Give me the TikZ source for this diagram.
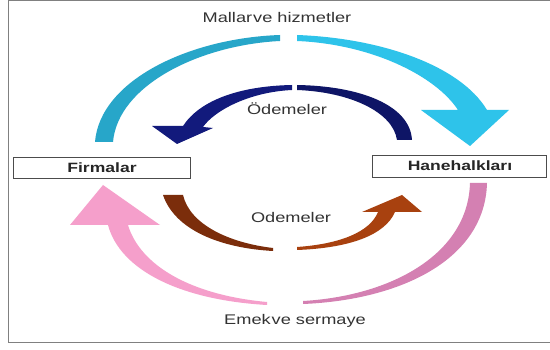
\documentclass[tikz,border=0pt]{standalone}
\usepackage{fontspec}
\setmainfont{Liberation Sans}
\newfontfamily\wf[FakeStretch=1.3]{Liberation Sans}
\definecolor{cyanA}{HTML}{27A6C9}
\definecolor{cyanB}{HTML}{2EC3EA}
\definecolor{navyA}{HTML}{121A7C}
\definecolor{navyB}{HTML}{0E1566}
\definecolor{brownA}{HTML}{7B2D0B}
\definecolor{brownB}{HTML}{A8410F}
\definecolor{pinkA}{HTML}{F59FCB}
\definecolor{pinkB}{HTML}{D480B2}
\definecolor{txt}{HTML}{333333}
\tikzset{
  lbl/.style={font=\wf\fontsize{14}{16}\selectfont, text=txt, inner sep=0pt},
  boxlbl/.style={font=\wf\bfseries\fontsize{13.5}{15}\selectfont, text=black!85, inner sep=0pt},
  boxframe/.style={draw=black!70, line width=0.9pt, fill=white},
  frame/.style={draw=black!50, line width=1pt}
}
\begin{document}
\begin{tikzpicture}[x=1pt,y=-1pt]
\useasboundingbox (0,0) rectangle (550,350);
\fill[white] (0,0) rectangle (550,350);
\draw[frame] (8.5,1) rectangle (560,342.5);

% top cyan arrow (Mallar ve hizmetler)
\fill[cyanA] (95,142) .. controls (100,80) and (190,38) .. (280,35)
  -- (280,41) .. controls (200,45) and (118,85) .. (113,142) -- cycle;
\fill[cyanB] (297,35) .. controls (380,38) and (460,65) .. (487,110)
  -- (509,110) -- (470,146) -- (421,110) -- (458,110)
  .. controls (435,75) and (370,44) .. (297,41) -- cycle;

% navy arrow (top Odemeler)
\fill[navyB] (297,85) .. controls (360,86) and (410,105) .. (412,140)
  -- (397,140) .. controls (393,112) and (350,92) .. (297,90) -- cycle;
\fill[navyA] (292,85) .. controls (240,86) and (200,100) .. (183,126)
  -- (152,126) -- (177,144) -- (213,128) -- (203,127)
  .. controls (215,110) and (250,92) .. (292,90) -- cycle;

% brown arrow (bottom Odemeler)
\fill[brownA] (163,195) .. controls (175,230) and (220,248) .. (273,251)
  -- (273,248) .. controls (230,243) and (190,225) .. (183,195) -- cycle;
\fill[brownB] (297,250) .. controls (350,248) and (385,235) .. (395,212)
  -- (422,212) -- (402,195) -- (362,212) -- (378,212)
  .. controls (370,232) and (340,244) .. (297,247) -- cycle;

% pink arrow (Emek ve sermaye)
\fill[pinkB] (487,183) .. controls (485,260) and (400,300) .. (303,304)
  -- (303,301) .. controls (390,296) and (468,255) .. (470,183) -- cycle;
\fill[pinkA] (267,305) .. controls (180,300) and (120,270) .. (108,225)
  -- (70,225) -- (103,185) -- (160,225) -- (128,225)
  .. controls (140,265) and (190,295) .. (267,302) -- cycle;

% boxes
\draw[boxframe] (13,157) rectangle (190,178);
\node[boxlbl] (firmalar) at (102,167.5) {Firmalar};
\draw[boxframe] (372,155) rectangle (546,177.5);
\node[boxlbl] (hane) at (460,166) {Hanehalkları};

% labels
\node[lbl] (mal) at (277,17) {Mallar\hspace{1pt}ve hizmetler};
\node[lbl] (od1) at (287,109) {Ödemeler};
\node[lbl] (od2) at (291,217) {Odemeler};
\node[lbl] (emek) at (295,321) {Emek\hspace{1pt}ve sermaye};
\end{tikzpicture}
\end{document}
